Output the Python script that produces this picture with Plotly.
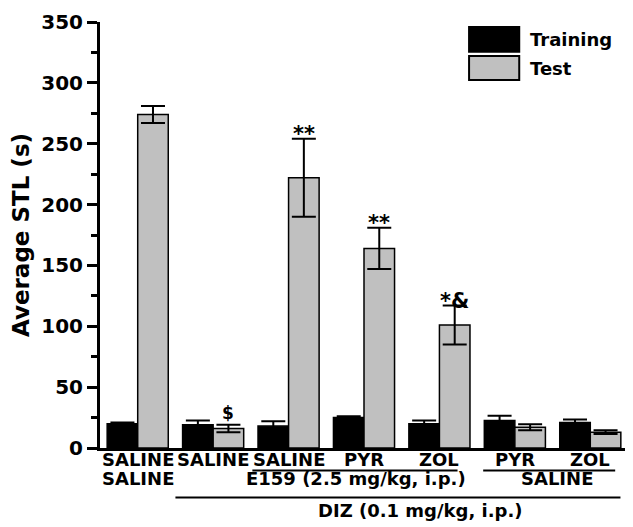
import plotly.graph_objects as go

# group labels (row 1 under each pair of bars)
groups = ["SALINE", "SALINE", "SALINE", "PYR", "ZOL", "PYR", "ZOL"]
training = [20, 19, 18, 25, 20, 22.5, 21]
training_err = [1, 3.5, 4, 1, 2.5, 4, 2.5]
test = [274, 16, 222, 164, 101, 17, 13]
test_err = [7, 3, 32, 17, 16, 2.5, 1.5]
marks = ["", "$", "**", "**", "*&", "", ""]

FONT = "DejaVu Sans"
BARGAP = 0.19
x = list(range(len(groups)))
half = (1 - BARGAP) / 4  # centre offset of each bar in its group

fig = go.Figure()
fig.add_trace(go.Bar(x=x, y=training, name="Training", marker=dict(color="black", line=dict(color="black", width=1.5)),
                     error_y=dict(type="data", array=training_err, color="black", thickness=2, width=12),
                     showlegend=False))
fig.add_trace(go.Bar(x=x, y=test, name="Test", marker=dict(color="#c0c0c0", line=dict(color="black", width=1.5)),
                     error_y=dict(type="data", array=test_err, color="black", thickness=2, width=12),
                     showlegend=False))

# significance marks above test bars
for i, m in enumerate(marks):
    if m:
        star = "*" in m
        fig.add_annotation(x=i + half, y=test[i] + test_err[i], xref="x", yref="y", text="<b>%s</b>" % m,
                           showarrow=False, yanchor="bottom", yshift=-9 if star else 0,
                           font=dict(family=FONT, size=21 if star else 17, color="black"))

# row 1 group labels
for i, g in enumerate(groups):
    fig.add_annotation(x=i, y=-0.028, xref="x", yref="paper", text="<b>%s</b>" % g, showarrow=False,
                       yanchor="middle", font=dict(family=FONT, size=18, color="black"))

# row 2 labels and bracket lines
row2 = [("SALINE", 0, -0.072), ("E159 (2.5 mg/kg, i.p.)", 2.89, -0.072), ("SALINE", 5.56, -0.072),
        ("DIZ (0.1 mg/kg, i.p.)", 3.74, -0.146)]
for txt, xc, yc in row2:
    fig.add_annotation(x=xc, y=yc, xref="x", yref="paper", text="<b>%s</b>" % txt, showarrow=False,
                       yanchor="middle", font=dict(family=FONT, size=18, color="black"))
for x0, x1, yy in [(1.52, 4.24, -0.053), (4.58, 6.33, -0.053), (0.50, 6.40, -0.116)]:
    fig.add_shape(type="line", xref="x", yref="paper", x0=x0, x1=x1, y0=yy, y1=yy,
                  line=dict(color="black", width=2))

# legend drawn by hand (large swatches)
for (name, col, y0, y1) in [("Training", "black", 0.930, 0.988), ("Test", "#c0c0c0", 0.864, 0.920)]:
    fig.add_shape(type="rect", xref="paper", yref="paper", x0=0.699, x1=0.794, y0=y0, y1=y1,
                  fillcolor=col, line=dict(color="black", width=2))
    fig.add_annotation(x=0.811, y=(y0 + y1) / 2, xref="paper", yref="paper", text="<b>%s</b>" % name,
                       showarrow=False, xanchor="left", yanchor="middle",
                       font=dict(family=FONT, size=18, color="black"))

# page body adds an 8px offset, so the figure is 8px smaller than the window
fig.update_layout(
    width=625, height=519, margin=dict(l=92, r=5, t=14, b=79),
    paper_bgcolor="white", plot_bgcolor="white",
    barmode="group", bargap=BARGAP, bargroupgap=0,
    font=dict(family=FONT, color="black"),
)
fig.update_xaxes(range=[-0.5, 6.5], showline=True, linecolor="black", linewidth=3,
                 showticklabels=False, ticks="", showgrid=False, zeroline=False, automargin=False)
fig.update_yaxes(range=[0, 350], dtick=50, showline=True, linecolor="black", linewidth=3,
                 ticks="outside", ticklen=10, tickwidth=3, tickcolor="black",
                 minor=dict(dtick=25, ticks="outside", ticklen=6, tickwidth=3, tickcolor="black"),
                 tickfont=dict(family=FONT, size=20, color="black", weight="bold"),
                 showgrid=False, zeroline=False, automargin=False,
                 title=dict(text="<b>Average STL (s)</b>", font=dict(family=FONT, size=23, color="black")))

fig.write_html("out.html")
